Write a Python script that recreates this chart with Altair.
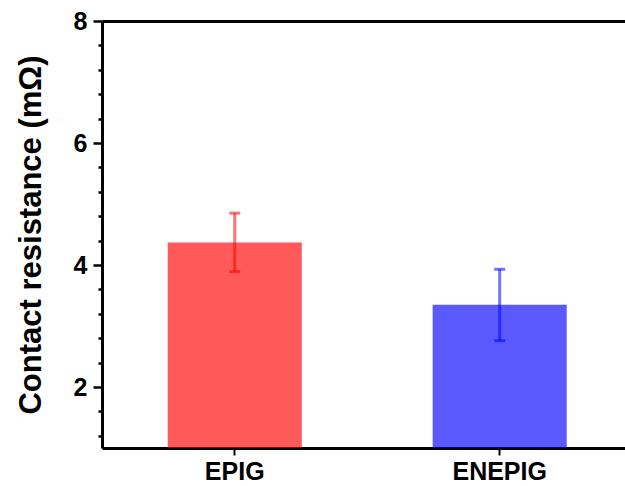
import altair as alt
import pandas as pd

categories = ["EPIG", "ENEPIG"]
means = [4.37, 3.35]
err_low = [3.89, 2.76]
err_high = [4.85, 3.93]
bar_colors = ["#ff0000", "#0000ff"]
y_major = [2, 4, 6, 8]
y_minor = [1.2, 1.6, 2.4, 2.8, 3.2, 3.6, 4.4, 4.8, 5.2, 5.6, 6.4, 6.8, 7.2, 7.6]
y_domain = [1, 8]

df = pd.DataFrame({"cat": categories, "mean": means, "lo": err_low, "hi": err_high})

FONT = "Liberation Sans"

x_scale = alt.Scale(domain=categories, paddingInner=0.494, paddingOuter=0.234, align=0.53)
y_scale = alt.Scale(domain=y_domain, zero=False, nice=False)
color_scale = alt.Scale(domain=categories, range=bar_colors)

y_axis_major = alt.Axis(
    orient="left",
    values=y_major,
    format="d",
    tickSize=9,
    tickWidth=2.5,
    tickColor="black",
    domainWidth=3,
    domainColor="black",
    grid=False,
    labelFont=FONT,
    labelFontWeight="bold",
    labelFontSize=25,
    labelColor="black",
    labelPadding=6,
    title="Contact resistance (mΩ)",
    titleFont=FONT,
    titleFontWeight="bold",
    titleFontSize=31,
    titleColor="black",
    titlePadding=26,
)

y_axis_minor = alt.Axis(
    orient="left",
    values=y_minor,
    labels=False,
    tickSize=4,
    tickWidth=2.5,
    tickColor="black",
    domain=False,
    grid=False,
    title=None,
)

x_axis_bottom = alt.Axis(
    orient="bottom",
    title=None,
    labelFont=FONT,
    labelFontWeight="bold",
    labelFontSize=25,
    labelColor="black",
    labelPadding=4,
    labelAngle=0,
    tickSize=7,
    tickWidth=2,
    tickColor="black",
    domainWidth=3,
    domainColor="black",
    grid=False,
)

x_axis_top = alt.Axis(
    orient="top",
    title=None,
    labels=False,
    ticks=False,
    domainWidth=3,
    domainColor="black",
    grid=False,
)

base = alt.Chart(df)

err_rule = base.mark_rule(strokeWidth=3, opacity=0.55).encode(
    x=alt.X("cat:N", scale=x_scale, axis=x_axis_top),
    y=alt.Y("lo:Q", scale=y_scale, axis=y_axis_minor),
    y2="hi:Q",
    color=alt.Color("cat:N", scale=color_scale, legend=None),
)

caps = base.transform_fold(["lo", "hi"], as_=["k", "v"]).mark_tick(
    size=11, thickness=3, opacity=0.55
).encode(
    x=alt.X("cat:N", scale=x_scale, axis=None),
    y=alt.Y("v:Q", scale=y_scale, axis=None),
    color=alt.Color("cat:N", scale=color_scale, legend=None),
)

bars = base.mark_bar(opacity=0.65).encode(
    x=alt.X("cat:N", scale=x_scale, axis=x_axis_bottom),
    y=alt.Y("mean:Q", scale=y_scale, axis=y_axis_major),
    y2=alt.datum(1),
    color=alt.Color("cat:N", scale=color_scale, legend=None),
)

chart = alt.layer(err_rule, caps, bars).resolve_axis(
    x="independent", y="independent"
).properties(
    width=523,
    height=427,
    background="white",
    autosize=alt.AutoSizeParams(type="none"),
    padding={"left": 102, "top": 21, "right": 0, "bottom": 38},
).configure_view(stroke=None)

chart.save("out.html", embed_options={"renderer": "svg", "actions": False})
